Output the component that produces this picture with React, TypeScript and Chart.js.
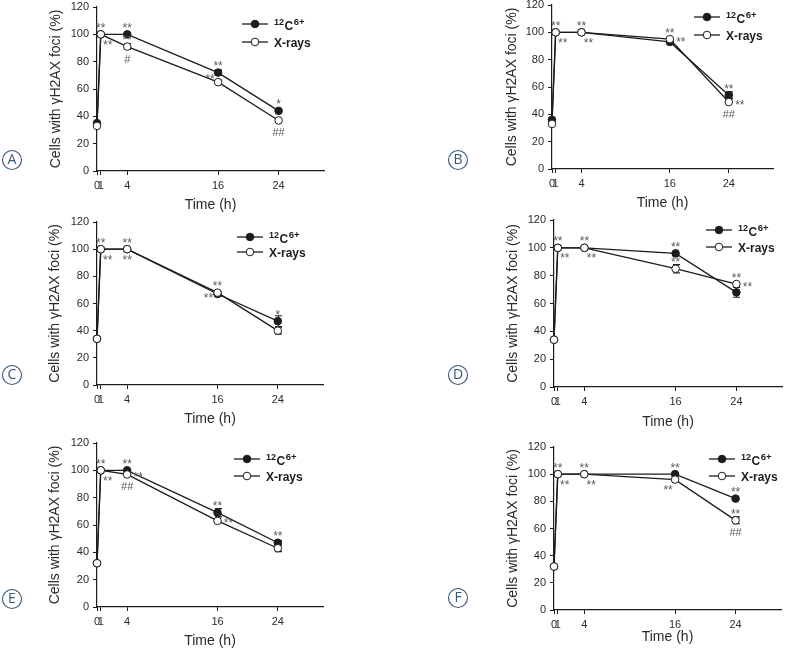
import React, { useEffect, useRef } from "react";
import { Chart, registerables } from "chart.js";

Chart.register(...registerables);

const FONT = "'Liberation Sans', Arial, Helvetica, sans-serif";
const INK = "#1c1c1c";
const TEXT = "#2a2a2a";
const NOTE = "#5a5a5a";
const BADGE = "#3a5677";

// ---------- data ----------
const timeHours = [0, 0.5, 4, 16, 24];
const xTickValues = [0, 0.5, 4, 16, 24];
const xTickLabels = ["0", "1", "4", "16", "24"];
const yMin = 0;
const yMax = 120;
const yStep = 20;
const xMax = 30;

const carbonLabelParts = ["12", "C", "6+"]; // 12C6+
const xrayLabel = "X-rays";
const yAxisTitle = "Cells with \u03b3H2AX foci (%)";
const xAxisTitle = "Time (h)";

// Panel A
const carbonA = [35, 100, 100, 72, 44];
const xrayA = [33, 100, 91, 65, 37];
const carbonErrA = [0, 0, 0, 2, 0];
const xrayErrA = [0, 0, 2, 1.5, 0];
const notesA = [
  ["x", 1, "**", "above"], ["x", 1, "**", "belowRight"],
  ["c", 2, "**", "above"], ["x", 2, "**", "above"], ["x", 2, "#", "under"],
  ["c", 3, "**", "above"], ["x", 3, "**", "aboveLeft"],
  ["c", 4, "*", "above"], ["x", 4, "##", "under"],
];

// Panel B
const carbonB = [36, 100, 100, 93, 54];
const xrayB = [33, 100, 100, 95, 49];
const carbonErrB = [0, 0, 0, 1.5, 2.5];
const xrayErrB = [0, 0, 0, 0, 0];
const notesB = [
  ["x", 1, "**", "above"], ["x", 1, "**", "belowRight"],
  ["x", 2, "**", "above"], ["x", 2, "**", "belowRight"],
  ["x", 3, "**", "above"], ["x", 3, "**", "right"],
  ["c", 4, "**", "above"], ["x", 4, "**", "right"], ["x", 4, "##", "under"],
];

// Panel C
const carbonC = [34, 100, 100, 67, 47];
const xrayC = [34, 100, 100, 68, 40];
const carbonErrC = [0, 0, 0, 1.5, 4];
const xrayErrC = [0, 0, 0, 0, 2.5];
const notesC = [
  ["x", 1, "**", "above"], ["x", 1, "**", "belowRight"],
  ["x", 2, "**", "above"], ["x", 2, "**", "below"],
  ["x", 3, "**", "above"], ["x", 3, "**", "left"],
  ["c", 4, "*", "above"],
];

// Panel D
const carbonD = [34, 100, 100, 96, 68];
const xrayD = [34, 100, 100, 85, 74];
const carbonErrD = [0, 0, 0, 0, 3.5];
const xrayErrD = [0, 0, 0, 3, 0];
const notesD = [
  ["x", 1, "**", "above"], ["x", 1, "**", "belowRight"],
  ["x", 2, "**", "above"], ["x", 2, "**", "belowRight"],
  ["c", 3, "**", "above"], ["x", 3, "**", "above"],
  ["x", 4, "**", "above"], ["x", 4, "**", "right"],
];

// Panel E
const carbonE = [32, 100, 100, 69, 47];
const xrayE = [32, 100, 97, 63, 43];
const carbonErrE = [0, 0, 0, 3, 1.5];
const xrayErrE = [0, 0, 0, 0, 2.5];
const notesE = [
  ["x", 1, "**", "above"], ["x", 1, "**", "belowRight"],
  ["c", 2, "**", "above"], ["x", 2, "**", "right"], ["x", 2, "##", "under"],
  ["c", 3, "**", "above"], ["x", 3, "**", "right"],
  ["c", 4, "**", "above"],
];

// Panel F
const carbonF = [32, 100, 100, 100, 82];
const xrayF = [32, 100, 100, 96, 66];
const carbonErrF = [0, 0, 0, 0, 0];
const xrayErrF = [0, 0, 0, 0, 2.5];
const notesF = [
  ["x", 1, "**", "above"], ["x", 1, "**", "belowRight"],
  ["x", 2, "**", "above"], ["x", 2, "**", "belowRight"],
  ["c", 3, "**", "above"], ["x", 3, "**", "belowLeft"],
  ["c", 4, "**", "above"], ["x", 4, "**", "above"], ["x", 4, "##", "under"],
];

// ---------- layout (page pixels) ----------
const NOTE_OFFSETS: Record<string, [number, number]> = {
  above: [0, -9],
  belowRight: [7, 8],
  below: [0, 8],
  under: [0, 12],
  right: [11, 0],
  left: [-9, 3],
  aboveLeft: [-8, -6],
  belowLeft: [-7, 8],
};

const LAYOUTS = {
  A: { left: 0, top: 0, w: 393, h: 215, aL: 97, aR: 324, aT: 7, aB: 171, yTitleX: 56, xTitleY: 205, lgX: 255, lgY1: 24, lgY2: 42, bX: 12, bY: 160 },
  B: { left: 393, top: 0, w: 394, h: 215, aL: 552, aR: 773, aT: 5, aB: 169, yTitleX: 512, xTitleY: 203, lgX: 707, lgY1: 17, lgY2: 35, bX: 458, bY: 160 },
  C: { left: 0, top: 215, w: 393, h: 215, aL: 97, aR: 323, aT: 222, aB: 385, yTitleX: 55, xTitleY: 419, lgX: 250, lgY1: 237, lgY2: 252, bX: 12, bY: 375 },
  D: { left: 393, top: 215, w: 394, h: 215, aL: 554, aR: 786, aT: 220, aB: 387, yTitleX: 513, xTitleY: 422, lgX: 719, lgY1: 230, lgY2: 247, bX: 458, bY: 375 },
  E: { left: 0, top: 430, w: 393, h: 223, aL: 97, aR: 323, aT: 443, aB: 607, yTitleX: 55, xTitleY: 641, lgX: 247, lgY1: 459, lgY2: 476, bX: 12, bY: 599 },
  F: { left: 393, top: 430, w: 394, h: 223, aL: 554, aR: 781, aT: 447, aB: 610, yTitleX: 513, xTitleY: 637, lgX: 722, lgY1: 459, lgY2: 476, bX: 458, bY: 598 },
};

const PANELS = [
  { letter: "A", carbon: carbonA, xray: xrayA, carbonErr: carbonErrA, xrayErr: xrayErrA, notes: notesA },
  { letter: "B", carbon: carbonB, xray: xrayB, carbonErr: carbonErrB, xrayErr: xrayErrB, notes: notesB },
  { letter: "C", carbon: carbonC, xray: xrayC, carbonErr: carbonErrC, xrayErr: xrayErrC, notes: notesC },
  { letter: "D", carbon: carbonD, xray: xrayD, carbonErr: carbonErrD, xrayErr: xrayErrD, notes: notesD },
  { letter: "E", carbon: carbonE, xray: xrayE, carbonErr: carbonErrE, xrayErr: xrayErrE, notes: notesE },
  { letter: "F", carbon: carbonF, xray: xrayF, carbonErr: carbonErrF, xrayErr: xrayErrF, notes: notesF },
];

const TITLE_SIZE = 14;
const TITLE_HALF = (TITLE_SIZE * 1.2) / 2;

function makeDecor(panel: any, L: any) {
  return {
    id: "decor" + panel.letter,
    beforeDatasetsDraw(chart: any) {
      const { ctx } = chart;
      const xs = chart.scales.x;
      const ys = chart.scales.y;
      ctx.save();
      ctx.strokeStyle = INK;
      ctx.lineWidth = 1.2;
      const sets = [
        [panel.carbon, panel.carbonErr],
        [panel.xray, panel.xrayErr],
      ];
      sets.forEach(([vals, errs]: any) => {
        vals.forEach((v: number, i: number) => {
          const e = errs[i];
          if (!e) return;
          const x = Math.round(xs.getPixelForValue(timeHours[i])) + 0.5;
          const y1 = ys.getPixelForValue(v + e);
          const y2 = ys.getPixelForValue(v - e);
          ctx.beginPath();
          ctx.moveTo(x, y1);
          ctx.lineTo(x, y2);
          ctx.moveTo(x - 3.5, y1);
          ctx.lineTo(x + 3.5, y1);
          ctx.moveTo(x - 3.5, y2);
          ctx.lineTo(x + 3.5, y2);
          ctx.stroke();
        });
      });
      ctx.restore();
    },
    afterDatasetsDraw(chart: any) {
      const { ctx } = chart;
      const xs = chart.scales.x;
      const ys = chart.scales.y;
      const ox = L.left;
      const oy = L.top;
      ctx.save();
      // significance marks
      panel.notes.forEach(([s, i, text, place]: any) => {
        const vals = s === "c" ? panel.carbon : panel.xray;
        const px = xs.getPixelForValue(timeHours[i]);
        const py = ys.getPixelForValue(vals[i]);
        const [dx, dy] = NOTE_OFFSETS[place];
        ctx.font = text.startsWith("#") ? `11px ${FONT}` : `12px ${FONT}`;
        ctx.fillStyle = NOTE;
        ctx.textAlign = "center";
        ctx.textBaseline = "alphabetic";
        const m = ctx.measureText(text);
        const asc = m.actualBoundingBoxAscent || 8;
        const desc = m.actualBoundingBoxDescent || 0;
        const cy = py + dy;
        ctx.fillText(text, px + dx, cy + (asc - desc) / 2);
      });

      // legend
      const lx = L.lgX - ox;
      const rows = [L.lgY1 - oy, L.lgY2 - oy];
      rows.forEach((ly: number, r: number) => {
        ctx.strokeStyle = INK;
        ctx.lineWidth = 1.3;
        ctx.beginPath();
        ctx.moveTo(lx - 13, ly);
        ctx.lineTo(lx + 13, ly);
        ctx.stroke();
        ctx.beginPath();
        ctx.arc(lx, ly, 3.8, 0, Math.PI * 2);
        ctx.fillStyle = r === 0 ? INK : "#ffffff";
        ctx.fill();
        ctx.lineWidth = 1;
        ctx.stroke();
        ctx.fillStyle = INK;
        ctx.textAlign = "left";
        ctx.textBaseline = "alphabetic";
        let tx = lx + 19;
        if (r === 0) {
          ctx.font = `bold 9px ${FONT}`;
          ctx.fillText(carbonLabelParts[0], tx, ly + 1);
          tx += ctx.measureText(carbonLabelParts[0]).width + 0.5;
          ctx.font = `bold 12px ${FONT}`;
          ctx.fillText(carbonLabelParts[1], tx, ly + 6);
          tx += ctx.measureText(carbonLabelParts[1]).width + 0.5;
          ctx.font = `bold 9.5px ${FONT}`;
          ctx.fillText(carbonLabelParts[2], tx, ly + 1);
        } else {
          ctx.font = `bold 12px ${FONT}`;
          ctx.fillText(xrayLabel, tx, ly + 4.5);
        }
      });

      // panel badge
      const bx = L.bX - ox;
      const by = L.bY - oy;
      ctx.beginPath();
      ctx.arc(bx, by, 9.5, 0, Math.PI * 2);
      ctx.strokeStyle = BADGE;
      ctx.lineWidth = 1.1;
      ctx.stroke();
      ctx.fillStyle = BADGE;
      ctx.font = `14px 'Open Sans', 'Noto Sans', sans-serif`;
      ctx.textAlign = "center";
      ctx.textBaseline = "middle";
      ctx.fillText(panel.letter, bx, by + 0.5);
      ctx.restore();
    },
  };
}

function Panel({ panel }: any) {
  const ref = useRef<HTMLCanvasElement>(null);
  const L = (LAYOUTS as any)[panel.letter];
  useEffect(() => {
    const canvas = ref.current;
    if (!canvas) return;
    const padL = L.yTitleX - TITLE_HALF - L.left;
    const yAxisW = L.aL - L.left - padL;
    const padT = L.aT - L.top;
    const padR = L.left + L.w - L.aR;
    const xAxisH = L.xTitleY + TITLE_HALF - L.aB;
    const padB = L.top + L.h - (L.xTitleY + TITLE_HALF);

    const chart = new Chart(canvas, {
      type: "line",
      data: {
        datasets: [
          {
            label: "12C6+",
            data: timeHours.map((t, i) => ({ x: t, y: panel.carbon[i] })),
            borderColor: INK,
            backgroundColor: INK,
            pointBackgroundColor: INK,
            pointBorderColor: INK,
            borderWidth: 1.3,
            pointRadius: 3.8,
            pointBorderWidth: 1,
            tension: 0,
            clip: false,
            order: 1,
          },
          {
            label: "X-rays",
            data: timeHours.map((t, i) => ({ x: t, y: panel.xray[i] })),
            borderColor: INK,
            backgroundColor: "#ffffff",
            pointBackgroundColor: "#ffffff",
            pointBorderColor: INK,
            borderWidth: 1.3,
            pointRadius: 3.8,
            pointBorderWidth: 1,
            tension: 0,
            clip: false,
            order: 0,
          },
        ],
      },
      options: {
        animation: false,
        responsive: false,
        maintainAspectRatio: false,
        events: [],
        layout: { padding: { left: padL, right: padR, top: padT, bottom: padB } },
        plugins: { legend: { display: false }, tooltip: { enabled: false } },
        scales: {
          x: {
            type: "linear",
            min: 0,
            max: xMax,
            afterBuildTicks: (s: any) => {
              s.ticks = xTickValues.map((v) => ({ value: v }));
            },
            afterFit: (s: any) => {
              s.height = xAxisH;
              s.paddingLeft = 0;
              s.paddingRight = 0;
            },
            ticks: {
              autoSkip: false,
              maxRotation: 0,
              minRotation: 0,
              padding: 4,
              color: TEXT,
              font: { size: 11, family: FONT },
              callback: (v: any) => {
                const k = xTickValues.indexOf(Number(v));
                return k >= 0 ? xTickLabels[k] : "";
              },
            },
            grid: { display: true, drawOnChartArea: false, drawTicks: true, tickLength: 4, color: INK, lineWidth: 1 },
            border: { display: true, color: INK, width: 1.2 },
            title: {
              display: true,
              text: xAxisTitle,
              color: TEXT,
              padding: 0,
              font: { size: TITLE_SIZE, family: FONT, lineHeight: 1.2 },
            },
          },
          y: {
            type: "linear",
            min: yMin,
            max: yMax,
            afterFit: (s: any) => {
              s.width = yAxisW;
              s.paddingTop = 0;
              s.paddingBottom = 0;
            },
            ticks: {
              stepSize: yStep,
              padding: 4,
              color: TEXT,
              font: { size: 11, family: FONT },
            },
            grid: { display: true, drawOnChartArea: false, drawTicks: true, tickLength: 4, color: INK, lineWidth: 1 },
            border: { display: true, color: INK, width: 1.2 },
            title: {
              display: true,
              text: yAxisTitle,
              color: TEXT,
              padding: 0,
              font: { size: TITLE_SIZE, family: FONT, lineHeight: 1.2 },
            },
          },
        },
      },
      plugins: [makeDecor(panel, L)],
    } as any);
    return () => chart.destroy();
  }, []);

  return (
    <canvas
      ref={ref}
      width={L.w}
      height={L.h}
      style={{ position: "absolute", left: L.left, top: L.top, width: L.w, height: L.h, display: "block" }}
    />
  );
}

export default function App() {
  return (
    <div
      style={{
        position: "absolute",
        left: 0,
        top: 0,
        width: 787,
        height: 653,
        overflow: "hidden",
        background: "#ffffff",
      }}
    >
      {PANELS.map((p) => (
        <Panel key={p.letter} panel={p} />
      ))}
    </div>
  );
}
